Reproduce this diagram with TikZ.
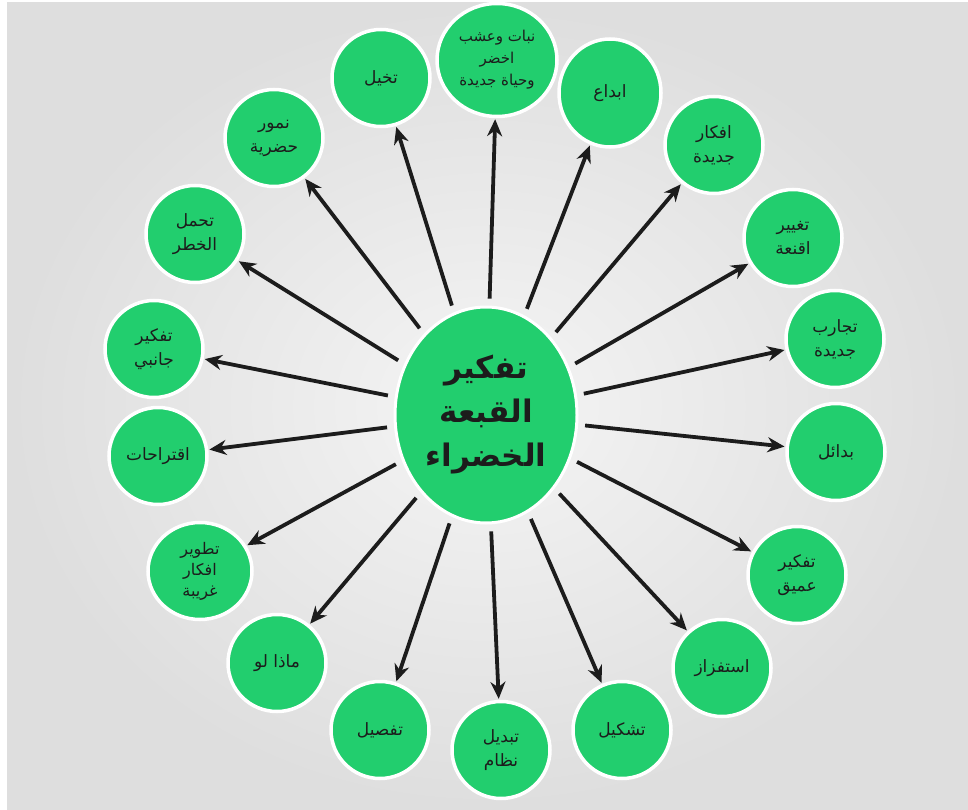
\documentclass[tikz,border=0pt]{standalone}
\usepackage{fontspec}
\usepackage{tikz}
\usetikzlibrary{arrows.meta}
\usetikzlibrary{shapes.geometric}
\newfontfamily\arabicfont[Script=Arabic]{DejaVu Sans}
\TeXXeTstate=1
\definecolor{leafgreen}{HTML}{22CE6E}
\definecolor{ink}{HTML}{1C1C1C}
\newcommand{\arline}[1]{\beginR #1\endR}

\begin{document}
\begin{tikzpicture}[x=1pt, y=-1pt,
    leaf/.style={ellipse, fill=leafgreen, draw=white, line width=3.5pt,
      minimum width=98pt, minimum height=97pt, inner sep=0pt, align=center,
      text=ink, font=\arabicfont\fontsize{17}{24}\selectfont},
    hub/.style={ellipse, fill=leafgreen, draw=white, line width=3pt,
      minimum width=182pt, minimum height=216pt, inner sep=0pt, align=center,
      text=ink, font=\arabicfont\bfseries\fontsize{31}{44}\selectfont},
    arr/.style={-{Stealth[length=17pt, width=15pt]}, line width=3.8pt, draw=ink,
      shorten <=7pt, shorten >=1pt}]
  \useasboundingbox (0,0) rectangle (968,810);
  \shade[inner color=white!92!gray, outer color=white!74!gray] (7,3) rectangle (968,810);

  \node[hub] (hub) at (486,415) {\arline{تفكير}\\\arline{القبعة}\\\arline{الخضراء}};

  \node[leaf, minimum width=120pt, minimum height=113pt,
    font=\arabicfont\fontsize{15}{22}\selectfont] (nabat) at (497,60)
    {\arline{نبات وعشب}\\\arline{اخضر}\\\arline{وحياة جديدة}};
  \node[leaf, minimum width=102pt, minimum height=108pt] (ibda) at (610,93) {\arline{ابداع}};
  \node[leaf] (afkar) at (714,145) {\arline{افكار}\\\arline{جديدة}};
  \node[leaf] (aqnia) at (793,238) {\arline{تغيير}\\\arline{اقنعة}};
  \node[leaf] (tajarib) at (835,339) {\arline{تجارب}\\\arline{جديدة}};
  \node[leaf] (badail) at (836,452) {\arline{بدائل}};
  \node[leaf] (amiq) at (797,575) {\arline{تفكير}\\\arline{عميق}};
  \node[leaf] (istifzaz) at (722,668) {\arline{استفزاز}};
  \node[leaf] (tashkil) at (622,730) {\arline{تشكيل}};
  \node[leaf] (tabdil) at (501,750) {\arline{تبديل}\\\arline{نظام}};
  \node[leaf] (tafsil) at (380,730) {\arline{تفصيل}};
  \node[leaf] (madha) at (277,663) {\arline{ماذا لو}};
  \node[leaf, minimum width=104pt,
    font=\arabicfont\fontsize{16}{21}\selectfont] (tatwir) at (200,571)
    {\arline{تطوير}\\\arline{افكار}\\\arline{غريبة}};
  \node[leaf] (iqtirahat) at (158,456) {\arline{اقتراحات}};
  \node[leaf] (janibi) at (154,349) {\arline{تفكير}\\\arline{جانبي}};
  \node[leaf] (khatar) at (195,234) {\arline{تحمل}\\\arline{الخطر}};
  \node[leaf] (numur) at (274,138) {\arline{نمور}\\\arline{حضرية}};
  \node[leaf] (takhayyul) at (381,78) {\arline{تخيل}};

  \foreach \n in {nabat,ibda,afkar,aqnia,tajarib,badail,amiq,istifzaz,tashkil,
      tabdil,tafsil,madha,tatwir,iqtirahat,janibi,khatar,numur,takhayyul}
    \draw[arr] (hub) -- (\n);
\end{tikzpicture}
\end{document}
